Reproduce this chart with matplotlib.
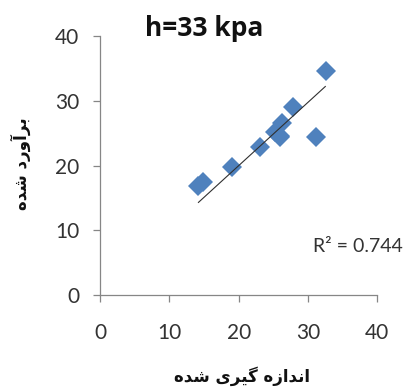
import matplotlib
matplotlib.use("Agg")
import matplotlib.pyplot as plt

# data
measured = [14.2, 14.9, 19.0, 23.1, 25.3, 25.9, 26.2, 26.0, 27.9, 31.2, 32.6]
estimated = [16.8, 17.5, 19.7, 22.9, 25.2, 24.4, 26.6, 24.6, 29.0, 24.4, 34.6]
trend_x = [14.2, 32.5]
trend_y = [14.3, 32.2]
ticks = [0, 10, 20, 30, 40]
title = "h=33 kpa"
r2_text = "R² = 0.744"

# Persian labels, pre-shaped (presentation forms, visual order)
ylabel = "\uFEE9\uFEAA\uFEB7 \uFEA9\uFEAD\uFEED\uFE81\uFEAE\uFE91"          # برآورد شده
xlabel = "\uFEE9\uFEAA\uFEB7 \uFBFC\uFEAE\uFBFF\uFB94 \uFEE9\uFEAF\uFE8D\uFEAA\uFEE7\uFE8D"  # اندازه گیری شده

W, H = 411, 387
fig = plt.figure(figsize=(W / 100, H / 100), dpi=100)
ax = fig.add_axes([100 / W, (H - 295) / H, 277.3 / W, 259 / H])

ax.plot(measured, estimated, linestyle="none", marker="D", markersize=10,
        color="#4F81BD", markeredgewidth=0, zorder=3)
ax.plot(trend_x, trend_y, color="#303030", linewidth=0.8, zorder=4)

ax.set_xlim(0, 40)
ax.set_ylim(0, 40)
ax.set_xticks(ticks)
ax.set_yticks(ticks)
for s in ("top", "right"):
    ax.spines[s].set_visible(False)
for s in ("left", "bottom"):
    ax.spines[s].set_color("#868686")
    ax.spines[s].set_linewidth(0.9)
ax.tick_params(axis="both", colors="#868686", labelcolor="#333333",
               labelsize=15, length=5, width=0.9, direction="out")
ax.tick_params(axis="x", pad=15)
ax.tick_params(axis="y", pad=10)
for lab in ax.get_xticklabels() + ax.get_yticklabels():
    lab.set_family("Lato")

fig.text(204 / W, 1 - 29 / H, title, ha="center", va="center",
         fontsize=19, fontweight="bold", family="Open Sans", color="#111111")
fig.text(313 / W, 1 - 247 / H, r2_text, ha="left", va="center",
         fontsize=14, family="Lato", color="#333333")
fig.text(242 / W, 1 - 376 / H, xlabel, ha="center", va="center",
         fontsize=12, fontweight="bold", family="DejaVu Sans", color="#111111")
fig.text(21 / W, 1 - 164 / H, ylabel, ha="center", va="center", rotation=90,
         fontsize=12, fontweight="bold", family="DejaVu Sans", color="#111111")

fig.savefig("out.png", dpi=100)
